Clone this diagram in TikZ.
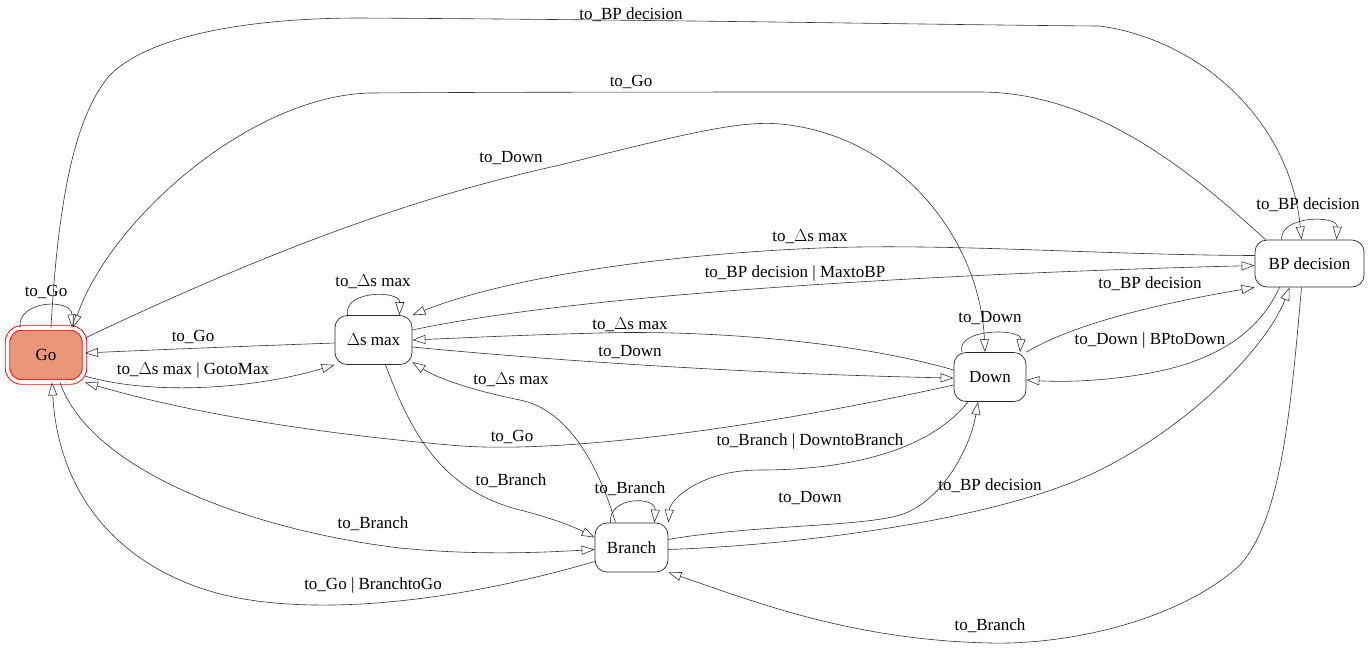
\documentclass[tikz,border=0pt]{standalone}
\usepackage{fontspec}
\setmainfont{Liberation Serif}
\usetikzlibrary{arrows.meta}
\definecolor{gofill}{HTML}{E9967A}
\tikzset{
  state/.style={draw=black!85, line width=0.7pt, rounded corners=12pt, minimum height=49pt, inner sep=2pt, font=\fontsize{17}{20}\selectfont},
  gostate/.style={draw=red, fill=gofill, double=white, double distance=3.6pt, line width=0.9pt, rounded corners=14pt, minimum width=77pt, minimum height=54pt, font=\fontsize{17}{20}\selectfont},
  edge/.style={draw=black!80, line width=0.6pt, -{Triangle[open,length=13pt,width=9pt]}},
  lbl/.style={inner sep=1pt, font=\fontsize{17}{20}\selectfont}
}
\begin{document}
\begin{tikzpicture}[x=1pt,y=-1pt]
\useasboundingbox (0,0) rectangle (1370,649);
% states
\node[gostate] (go) at (46,355) {Go};
\node[state, minimum width=77pt] (max) at (373.5,340) {$\Delta$s max};
\node[state, minimum width=72pt] (down) at (990,377) {Down};
\node[state, minimum width=109pt, minimum height=47pt] (bp) at (1309.5,263.5) {BP decision};
\node[state, minimum width=73pt] (br) at (631.5,547.5) {Branch};

% 1 Go -> BP
\draw[edge] ([xshift=5pt]go.north) .. controls (58,200) and (75,115) .. (110,75)
  .. controls (150,35) and (250,18) .. (360,18)
  .. controls (700,20) and (950,25) .. (1100,26)
  .. controls (1200,40) and (1290,120) .. ([xshift=-8pt]bp.north);
\node[lbl] (l1) at (631,15) {to\_BP decision};
% 2 BP -> Go
\draw[edge] ([xshift=-44pt]bp.north) .. controls (1200,180) and (1100,92) .. (980,92)
  .. controls (700,92) and (500,92) .. (370,93)
  .. controls (250,96) and (110,220) .. ([xshift=27pt]go.north);
\node[lbl] (l2) at (631,82) {to\_Go};
% 3 Go -> Down
\draw[edge] ([yshift=17pt]go.east) .. controls (250,260) and (400,200) .. (560,165)
  .. controls (680,135) and (740,120) .. (780,124)
  .. controls (900,135) and (980,240) .. ([xshift=-5pt]down.north);
\node[lbl] (l3) at (511,158) {to\_Down};
% 4 Go self loop
\draw[edge] ([xshift=-26pt]go.north) .. controls (17,300) and (72,298) .. ([xshift=26pt]go.north);
\node[lbl] (l4) at (46,292) {to\_Go};
% 5 Max -> Go
\draw[edge] ([yshift=-3pt]max.west) .. controls (250,346) and (150,350) .. ([yshift=2pt]go.east);
\node[lbl] (l5) at (193,337) {to\_Go};
% 6 Go -> Max
\draw[edge] ([yshift=-21pt]go.east) .. controls (150,395) and (250,390) .. (max.south west);
\node[lbl] (l6) at (193,370) {to\_$\Delta$s max | GotoMax};
% 7 Down -> Go
\draw[edge] ([yshift=-8pt]down.west) .. controls (750,430) and (550,455) .. (450,445)
  .. controls (300,432) and (180,410) .. (go.south east);
\node[lbl] (l7) at (512,437) {to\_Go};
% 8 Go -> Branch
\draw[edge] ([xshift=14pt]go.south) .. controls (90,470) and (250,530) .. (400,548)
  .. controls (480,556) and (550,552) .. ([yshift=-2pt]br.west);
\node[lbl] (l8) at (373,524) {to\_Branch};
% 9 Branch -> Go
\draw[edge] ([yshift=-14pt]br.west) .. controls (480,595) and (350,615) .. (250,600)
  .. controls (150,585) and (60,520) .. ([xshift=6pt]go.south);
\node[lbl] (l9) at (373,585) {to\_Go | BranchtoGo};
% 10 Max self loop
\draw[edge] ([xshift=-26pt]max.north) .. controls (343,290) and (400,290) .. ([xshift=26pt]max.north);
\node[lbl] (l10) at (373,282) {to\_$\Delta$s max};
% 11 BP -> Max
\draw[edge] ([yshift=8pt]bp.west) .. controls (1100,255) and (950,243) .. (820,248)
  .. controls (650,255) and (500,280) .. (max.north east);
\node[lbl] (l11) at (810,237) {to\_$\Delta$s max};
% 12 Max -> BP
\draw[edge] ([yshift=10pt]max.east) .. controls (600,290) and (1000,272) .. ([yshift=-2pt]bp.west);
\node[lbl] (l12) at (795,273) {to\_BP decision | MaxtoBP};
% 13 Down -> Max
\draw[edge] ([yshift=7pt]down.west) .. controls (850,340) and (700,330) .. (600,333)
  .. controls (520,335) and (460,338) .. (max.east);
\node[lbl] (l13) at (630,325) {to\_$\Delta$s max};
% 14 Max -> Down
\draw[edge] ([yshift=-7pt]max.east) .. controls (600,365) and (800,375) .. ([yshift=-1pt]down.west);
\node[lbl] (l14) at (630,352) {to\_Down};
% 15 Branch -> Max
\draw[edge] ([xshift=-16pt]br.north) .. controls (600,470) and (570,410) .. (520,400)
  .. controls (480,392) and (440,380) .. ([yshift=-22pt]max.east);
\node[lbl] (l15) at (511,380) {to\_$\Delta$s max};
% 16 Max -> Branch
\draw[edge] ([xshift=12pt]max.south) .. controls (410,430) and (440,490) .. (520,510)
  .. controls (560,520) and (580,530) .. ([yshift=10pt]br.west);
\node[lbl] (l16) at (511,481) {to\_Branch};
% 17 Branch self loop
\draw[edge] ([xshift=-21pt]br.north) .. controls (608,496) and (656,496) .. ([xshift=23pt]br.north);
\node[lbl] (l17) at (630,489) {to\_Branch};
% 18 Down -> Branch
\draw[edge] ([xshift=-22pt]down.south) .. controls (930,450) and (850,470) .. (760,470)
  .. controls (700,470) and (670,500) .. (br.north east);
\node[lbl] (l18) at (810,441) {to\_Branch | DowntoBranch};
% 19 Branch -> Down
\draw[edge] ([yshift=8pt]br.east) .. controls (750,525) and (860,527) .. (900,515)
  .. controls (940,503) and (970,450) .. ([xshift=-12pt]down.south);
\node[lbl] (l19) at (810,498) {to\_Down};
% 20 Branch -> BP
\draw[edge] ([yshift=-2pt]br.east) .. controls (800,545) and (1000,520) .. (1100,470)
  .. controls (1200,420) and (1270,340) .. ([xshift=-20pt]bp.south);
\node[lbl] (l20) at (990,486) {to\_BP decision};
% 21 BP -> Branch
\draw[edge] ([xshift=-8pt]bp.south) .. controls (1290,420) and (1280,520) .. (1240,565)
  .. controls (1180,620) and (1070,645) .. (990,643)
  .. controls (850,640) and (750,600) .. (br.south east);
\node[lbl] (l21) at (990,626) {to\_Branch};
% 22 Down self loop
\draw[edge] ([xshift=-28pt]down.north) .. controls (955,328) and (1022,328) .. ([xshift=30pt]down.north);
\node[lbl] (l22) at (990,318) {to\_Down};
% 23 BP self loop
\draw[edge] ([xshift=-28pt]bp.north) .. controls (1280,215) and (1338,215) .. ([xshift=27pt]bp.north);
\node[lbl] (l23) at (1308,205) {to\_BP decision};
% 24 Down -> BP
\draw[edge] (down.north east) .. controls (1080,320) and (1180,300) .. (bp.south west);
\node[lbl] (l24) at (1150,284) {to\_BP decision};
% 25 BP -> Down
\draw[edge] ([xshift=-30pt]bp.south) .. controls (1260,330) and (1220,360) .. (1150,373)
  .. controls (1100,382) and (1060,382) .. ([yshift=-3pt]down.east);
\node[lbl] (l25) at (1150,340) {to\_Down | BPtoDown};
\end{tikzpicture}
\end{document}
